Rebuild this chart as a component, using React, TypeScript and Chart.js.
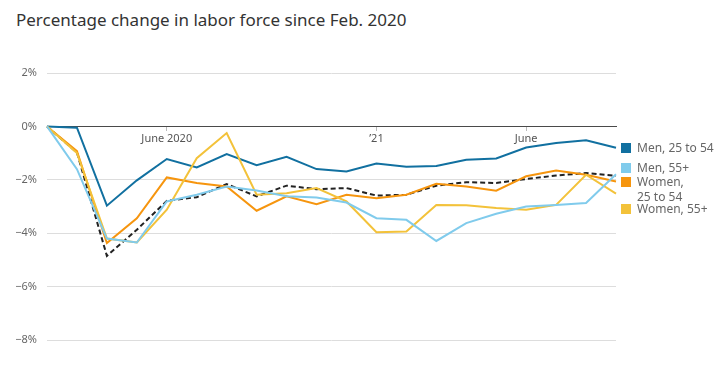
import React, { useEffect, useRef } from "react";
import { Chart, registerables } from "chart.js";

Chart.register(...registerables);

const months = [
  "2020-02", "2020-03", "2020-04", "2020-05", "2020-06", "2020-07", "2020-08", "2020-09",
  "2020-10", "2020-11", "2020-12", "2021-01", "2021-02", "2021-03", "2021-04", "2021-05",
  "2021-06", "2021-07", "2021-08", "2021-09",
];
const tickLabels: Record<string, string> = {
  "2020-06": "June 2020",
  "2021-01": "\u201921",
  "2021-06": "June",
};
const men2554 = [0, -0.05, -2.97, -2.02, -1.22, -1.54, -1.04, -1.45, -1.14, -1.6, -1.69, -1.39, -1.51, -1.48, -1.25, -1.2, -0.79, -0.62, -0.52, -0.8];
const men55 = [0, -1.6, -4.2, -4.35, -2.81, -2.56, -2.25, -2.4, -2.62, -2.66, -2.85, -3.44, -3.5, -4.29, -3.62, -3.27, -3.0, -2.94, -2.87, -1.79];
const women2554 = [0, -0.92, -4.37, -3.44, -1.91, -2.12, -2.25, -3.16, -2.62, -2.91, -2.56, -2.69, -2.56, -2.15, -2.25, -2.41, -1.87, -1.65, -1.81, -2.06];
const women55 = [0, -1.0, -4.2, -4.35, -3.12, -1.19, -0.25, -2.56, -2.5, -2.31, -2.81, -3.96, -3.94, -2.94, -2.95, -3.06, -3.12, -2.94, -1.81, -2.52];
const overall = [0, -0.98, -4.85, -3.87, -2.79, -2.65, -2.16, -2.62, -2.22, -2.35, -2.31, -2.59, -2.56, -2.22, -2.09, -2.12, -1.97, -1.84, -1.75, -1.85];

const legendItems = [
  { label: ["Men, 25 to 54"], color: "#1170a0", top: 140 },
  { label: ["Men, 55+"], color: "#80cbec", top: 160 },
  { label: ["Women,", "25 to 54"], color: "#f6950e", top: 174 },
  { label: ["Women, 55+"], color: "#f3c23a", top: 201 },
];

const FONT = "'Noto Sans', sans-serif";

export default function App() {
  const ref = useRef<HTMLCanvasElement | null>(null);
  useEffect(() => {
    if (!ref.current) return;
    const line = (data: number[], color: string, dash?: number[]) => ({
      data,
      borderColor: color,
      backgroundColor: color,
      borderWidth: 2,
      pointRadius: 0,
      tension: 0,
      borderDash: dash || [],
      fill: false,
    });
    const chart = new Chart(ref.current, {
      type: "line",
      data: {
        labels: months,
        datasets: [
          line(men55, "#80cbec"),
          line(women55, "#f3c23a"),
          line(women2554, "#f6950e"),
          line(overall, "#222222", [5, 3]),
          line(men2554, "#1170a0"),
        ],
      },
      options: {
        animation: false,
        responsive: false,
        maintainAspectRatio: false,
        layout: { padding: { left: 0, right: 109, top: 73, bottom: 31 } },
        plugins: { legend: { display: false }, tooltip: { enabled: false } },
        scales: {
          x: {
            position: { y: 0 },
            offset: false,
            border: { display: true, color: "#4a4a4a", width: 1 },
            grid: {
              drawOnChartArea: false,
              drawTicks: true,
              tickLength: 4,
              color: (ctx: any) => (tickLabels[months[ctx.index]] ? "#bbbbbb" : "rgba(0,0,0,0)"),
            },
            ticks: {
              autoSkip: false,
              maxRotation: 0,
              padding: 2,
              color: "#555555",
              font: { family: FONT, size: 11 },
              callback: (_v: any, i: number) => tickLabels[months[i]] || "",
            },
          },
          y: {
            min: -8,
            max: 2,
            border: { display: false },
            afterFit: (s: any) => {
              s.width = 47;
            },
            grid: {
              drawTicks: false,
              color: (ctx: any) => (ctx.tick && ctx.tick.value === 0 ? "#4a4a4a" : "#dddddd"),
              lineWidth: 1,
            },
            ticks: {
              stepSize: 2,
              padding: 10,
              color: "#666666",
              font: { family: FONT, size: 11 },
              callback: (v: any) => (v < 0 ? "\u2212" + Math.abs(v) : String(v)) + "%",
            },
          },
        },
      },
    });
    return () => chart.destroy();
  }, []);

  return (
    <div style={{ position: "absolute", left: 0, top: 0, width: 725, height: 371, background: "#fff", fontFamily: FONT }}>
      <div style={{ position: "absolute", left: 16, top: 8, fontSize: 17, color: "#333", whiteSpace: "nowrap" }}>
        Percentage change in labor force since Feb. 2020
      </div>
      <canvas ref={ref} width={725} height={371} style={{ position: "absolute", left: 0, top: 0, width: 725, height: 371 }} />
      {legendItems.map((it) => (
        <div key={it.label.join(" ")} style={{ position: "absolute", left: 621, top: it.top, display: "flex", alignItems: "flex-start" }}>
          <div style={{ width: 10, height: 10, background: it.color, marginTop: 3, marginRight: 6 }} />
          <div style={{ fontSize: 12, lineHeight: "15px", color: "#666" }}>
            {it.label.map((l) => (
              <div key={l}>{l}</div>
            ))}
          </div>
        </div>
      ))}
    </div>
  );
}
